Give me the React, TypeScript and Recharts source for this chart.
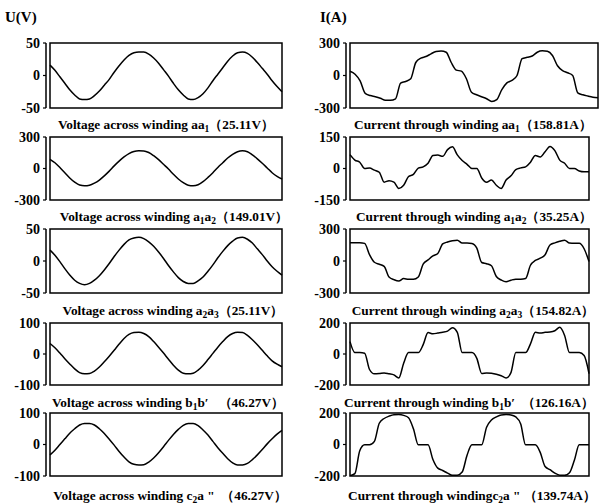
import React from "react";
import { LineChart, Line, XAxis, YAxis, ReferenceArea } from "recharts";

// Winding voltages (V), sampled evenly over the window
const voltAa1 = [
  16, 8, -2, -12, -22, -30, -36, -37, -36, -31, -24, -15, -6, 5, 15, 24, 31, 35, 36, 36, 33, 27, 19, 9,
  -1, -12, -22, -30, -36, -37, -34, -28, -19, -8, 2, 12, 22, 30, 35, 36, 34, 28, 20, 11, 2, -8, -17, -25,
];
const voltA1a2 = [
  88, 55, 10, -40, -90, -130, -158, -165, -160, -140, -110, -70, -25, 25, 70, 110, 142, 162, 168, 167, 152, 122, 85, 40,
  -5, -55, -100, -135, -160, -165, -155, -125, -85, -40, 10, 55, 100, 135, 160, 168, 160, 130, 92, 50, 5, -40, -75, -100,
];
const voltA2a3 = [
  17, 9, -1, -12, -22, -30, -35, -37, -35, -30, -23, -14, -4, 7, 17, 26, 33, 36, 37, 35, 30, 23, 14, 4,
  -7, -17, -26, -32, -35, -35, -31, -25, -16, -6, 5, 15, 24, 31, 36, 37, 34, 28, 19, 10, 0, -9, -16, -22,
];
const voltB1b = [
  34, 20, 3, -15, -32, -48, -60, -64, -63, -55, -42, -25, -7, 12, 32, 50, 63, 69, 70, 66, 56, 40, 22, 3,
  -17, -36, -52, -62, -64, -62, -52, -37, -18, 2, 22, 40, 56, 66, 70, 69, 60, 46, 30, 12, -6, -22, -33, -41,
];
const voltC2a = [
  -33, -18, 0, 18, 36, 50, 62, 67, 67, 62, 50, 35, 17, -2, -22, -40, -55, -63, -65, -64, -56, -43, -26, -7,
  13, 32, 48, 61, 67, 67, 60, 46, 30, 10, -10, -28, -45, -58, -65, -65, -60, -48, -33, -16, 2, 18, 33, 45,
];

// Winding currents (A), sampled evenly over the window
const currAa1 = [
  39, 12, -50, -165, -185, -196, -210, -228, -228, -215, -70, -55, -30, 120, 160, 175, 200, 222, 226, 215, 120, 50, 40, -30, -155,
  -178, -196, -215, -240, -222, -130, -68, -45, 0, 155, 168, 180, 215, 228, 224, 185, 90, 45, 25, 0, -160, -178, -190, -200, -205,
];
const currA1a2 = [
  66, 40, 30, 0, 2, -8, -18, -65, -58, -65, -95, -80, -38, -28, 2, 8, 25, 62, 64, 58, 90, 103, 65, 38, 20,
  0, 0, -45, -65, -55, -80, -95, -55, -35, -5, 3, 8, 30, 62, 55, 80, 105, 85, 40, 25, 0, 0, -12, -16, -16,
];
const currA2a3 = [
  170, 172, 172, 165, 60, -12, -30, -50, -150, -175, -188, -165, -172, -172, -150, -30, 10, 48, 70, 160, 178, 190, 195, 168, 168,
  165, 120, -14, -25, -45, -145, -178, -195, -180, -170, -170, -165, -40, 5, 26, 59, 150, 170, 185, 195, 168, 166, 166, 115, -5,
];
const currB1b = [
  80, 9, 9, 5, -100, -128, -126, -122, -128, -135, -155, -60, 9, 9, 9, 60, 138, 130, 135, 140, 148, 170, 140, 9, 9,
  9, -28, -125, -122, -124, -130, -140, -155, -120, 9, 9, 9, 65, 140, 135, 140, 142, 150, 172, 120, 9, 9, 9, -10, -126,
];
const currC2a = [
  -198, -185, -40, -2, -2, 20, 135, 165, 180, 189, 190, 185, 170, 100, -2, -2, -2, -95, -150, -165, -182, -196, -195, -175, -68,
  -2, -2, -2, 110, 155, 175, 188, 190, 188, 175, 130, -2, -2, -2, -50, -140, -160, -182, -195, -196, -180, -100, -2, -2, -2,
];

// Tick sets (top, middle, bottom) for each axis
const ticksV50 = [50, 0, -50];
const ticksV300 = [300, 0, -300];
const ticksV100 = [100, 0, -100];
const ticksI300 = [300, 0, -300];
const ticksI150 = [150, 0, -150];
const ticksI200 = [200, 0, -200];

const FONT = '"Liberation Serif", "Times New Roman", serif';

type PanelProps = {
  values: number[];
  ticks: number[];
  left: number;
  right: number;
  top: number;
  bottom: number;
};

function Panel({ values, ticks, left, right, top, bottom }: PanelProps) {
  const data = values.map((v, i) => ({ i, v }));
  const max = Math.max(...ticks);
  const min = Math.min(...ticks);
  const last = values.length - 1;
  return (
    <div style={{ position: "absolute", left, top: top - 12 }}>
      <LineChart
        width={right - left + 2}
        height={bottom - top + 24}
        data={data}
        margin={{ top: 12, right: 2, bottom: 12, left: 0 }}
      >
        <XAxis dataKey="i" type="number" domain={[0, last]} hide padding={{ left: 4, right: 0 }} />
        <YAxis
          type="number"
          domain={[min, max]}
          ticks={ticks}
          interval={0}
          width={46}
          tickSize={3}
          tickMargin={3}
          axisLine={{ stroke: "#000", strokeWidth: 1.5 }}
          tickLine={{ stroke: "#000", strokeWidth: 1.2 }}
          tick={{ fill: "#000", fontSize: 14, fontWeight: "bold", fontFamily: FONT }}
          allowDataOverflow
        />
        <ReferenceArea x1={0} x2={last} y1={min} y2={max} stroke="#000" strokeWidth={1.5} fill="none" fillOpacity={0} />
        <Line type="monotone" dataKey="v" stroke="#000" strokeWidth={1.5} dot={false} isAnimationActive={false} />
      </LineChart>
    </div>
  );
}

const Sub = ({ children }: { children: React.ReactNode }) => (
  <span style={{ fontSize: 9.5, position: "relative", top: 3 }}>{children}</span>
);

function Caption({ x, y, children }: { x: number; y: number; children: React.ReactNode }) {
  return (
    <div
      style={{
        position: "absolute",
        left: x,
        top: y,
        transform: "translate(-50%, -50%)",
        whiteSpace: "nowrap",
        fontFamily: FONT,
        fontWeight: "bold",
        fontSize: 13.3,
        lineHeight: "16px",
        color: "#000",
      }}
    >
      {children}
    </div>
  );
}

const rows = [
  [43, 108],
  [137, 200],
  [229, 293],
  [323, 385],
  [413, 476],
];

export default function App() {
  return (
    <div style={{ position: "absolute", left: 0, top: 0, width: 602, height: 503, background: "#fff" }}>
      <div style={{ position: "absolute", left: 5, top: 9, fontFamily: FONT, fontWeight: "bold", fontSize: 15 }}>U(V)</div>
      <div style={{ position: "absolute", left: 320, top: 9, fontFamily: FONT, fontWeight: "bold", fontSize: 15 }}>I(A)</div>

      <Panel values={voltAa1} ticks={ticksV50} left={0} right={282} top={rows[0][0]} bottom={rows[0][1]} />
      <Panel values={voltA1a2} ticks={ticksV300} left={0} right={282} top={rows[1][0]} bottom={rows[1][1]} />
      <Panel values={voltA2a3} ticks={ticksV50} left={0} right={282} top={rows[2][0]} bottom={rows[2][1]} />
      <Panel values={voltB1b} ticks={ticksV100} left={0} right={282} top={rows[3][0]} bottom={rows[3][1]} />
      <Panel values={voltC2a} ticks={ticksV100} left={0} right={282} top={rows[4][0]} bottom={rows[4][1]} />

      <Panel values={currAa1} ticks={ticksI300} left={300} right={598} top={rows[0][0]} bottom={rows[0][1]} />
      <Panel values={currA1a2} ticks={ticksI150} left={300} right={589} top={rows[1][0]} bottom={rows[1][1]} />
      <Panel values={currA2a3} ticks={ticksI300} left={300} right={589} top={rows[2][0]} bottom={rows[2][1]} />
      <Panel values={currB1b} ticks={ticksI200} left={300} right={589} top={rows[3][0]} bottom={rows[3][1]} />
      <Panel values={currC2a} ticks={ticksI200} left={300} right={589} top={rows[4][0]} bottom={rows[4][1]} />

      <Caption x={166} y={125}>Voltage across winding aa<Sub>1</Sub>（25.11V）</Caption>
      <Caption x={174} y={217}>Voltage across winding a<Sub>1</Sub>a<Sub>2</Sub>（149.01V）</Caption>
      <Caption x={173} y={311}>Voltage across winding a<Sub>2</Sub>a<Sub>3</Sub>（25.11V）</Caption>
      <Caption x={168} y={403}>Voltage across winding b<Sub>1</Sub>b′{"\u00a0\u00a0\u00a0"}（46.27V）</Caption>
      <Caption x={170} y={496}>Voltage across winding c<Sub>2</Sub>a "{"\u00a0\u00a0"}（46.27V）</Caption>

      <Caption x={473} y={125}>Current through winding aa<Sub>1</Sub>（158.81A）</Caption>
      <Caption x={474} y={217}>Current through winding a<Sub>1</Sub>a<Sub>2</Sub>（35.25A）</Caption>
      <Caption x={473} y={311}>Current through winding a<Sub>2</Sub>a<Sub>3</Sub>（154.82A）</Caption>
      <Caption x={469} y={403}>Current through winding b<Sub>1</Sub>b′{"\u00a0\u00a0"}（126.16A）</Caption>
      <Caption x={472} y={496}>Current through windingc<Sub>2</Sub>a "{"\u00a0"}（139.74A）</Caption>
    </div>
  );
}
